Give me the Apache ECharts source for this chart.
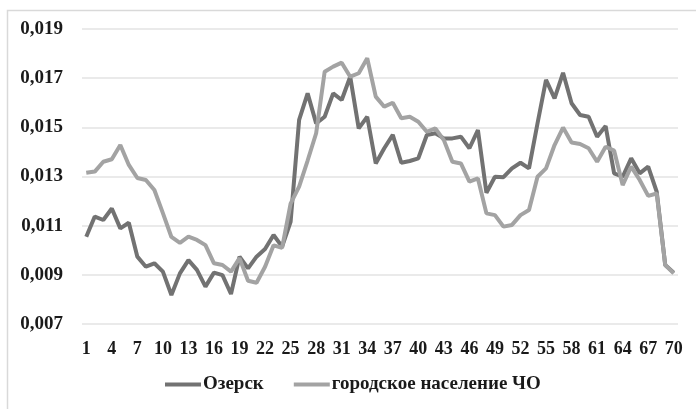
<!DOCTYPE html>
<html>
<head>
<meta charset="utf-8">
<script src="https://cdn.jsdelivr.net/npm/echarts@6/dist/echarts.min.js"></script>
<style>
  html, body { margin: 0; padding: 0; background: #fff; }
  #chart { width: 696px; height: 409px; }
</style>
</head>
<body>
<div id="chart"></div>
<script>
// 1..70
var categories = [];
for (var i = 1; i <= 70; i++) categories.push(String(i));

var ozersk = [
  0.01055, 0.01137, 0.01123, 0.0117, 0.01089, 0.01112, 0.00974, 0.00933, 0.00947, 0.00913,
  0.00818, 0.00906, 0.0096, 0.0092, 0.00852, 0.00909, 0.00899, 0.00822, 0.00974, 0.00926,
  0.00974, 0.01005, 0.01062, 0.01015, 0.01116, 0.0153, 0.01638, 0.01516, 0.01543, 0.01638,
  0.01611, 0.01706, 0.01496, 0.01543, 0.01353, 0.01415, 0.01469, 0.01356, 0.01363, 0.01374,
  0.01469, 0.01476, 0.01455, 0.01455, 0.01462, 0.01415, 0.01489, 0.01234, 0.01299, 0.01297,
  0.01333, 0.01356, 0.01333, 0.01516, 0.01693, 0.01618, 0.01722, 0.01598, 0.0155, 0.01543,
  0.01462, 0.01505, 0.01313, 0.01299, 0.01374, 0.01313, 0.0134, 0.01238, 0.0094, 0.00909
];

var urbanCO = [
  0.01315, 0.0132, 0.0136, 0.0137, 0.01428, 0.01347, 0.01294, 0.01286, 0.01245, 0.01151,
  0.01054, 0.0103, 0.01055, 0.01042, 0.01021, 0.00947, 0.0094, 0.00913, 0.00968, 0.00876,
  0.00868, 0.00933, 0.0102, 0.0101, 0.0119, 0.01259, 0.01365, 0.01476, 0.01726, 0.01747,
  0.01763, 0.01706, 0.0172, 0.01781, 0.01625, 0.01584, 0.016, 0.01537, 0.01543, 0.01523,
  0.01482, 0.01496, 0.01448, 0.0136, 0.01353, 0.01279, 0.01292, 0.0115, 0.01143, 0.01096,
  0.01103, 0.01143, 0.01164, 0.01299, 0.01333, 0.01428, 0.01499, 0.01438, 0.01432, 0.01415,
  0.0136, 0.01421, 0.01405, 0.01265, 0.0134, 0.01286, 0.01221, 0.01231, 0.0094, 0.00906
];

var seriesNames = ['Озерск', 'городское население ЧО'];

var font = '"Liberation Serif", "DejaVu Serif", serif';

var chart = echarts.init(document.getElementById('chart'));
chart.setOption({
  animation: false,
  textStyle: { fontFamily: font },
  graphic: [
    {
      type: 'polyline',
      shape: { points: [[7.5, 420], [7.5, 10.5], [700, 10.5]] },
      style: { stroke: '#d9d9d9', lineWidth: 1.5, fill: null }
    }
  ],
  grid: { left: 82, right: 18, top: 29, bottom: 85 },
  legend: {
    bottom: 10,
    left: 160,
    itemWidth: 36,
    itemHeight: 4,
    itemGap: 30,
    icon: 'rect',
    textStyle: { fontFamily: font, fontSize: 19, fontWeight: 'bold', color: '#1a1a1a', padding: [0, 0, 0, -3] },
    data: seriesNames
  },
  xAxis: {
    type: 'category',
    data: categories,
    boundaryGap: true,
    axisLine: { show: false },
    axisTick: { show: false },
    axisLabel: {
      interval: 2,
      margin: 16,
      fontFamily: font,
      fontSize: 18,
      fontWeight: 'bold',
      color: '#1a1a1a'
    }
  },
  yAxis: {
    type: 'value',
    min: 0.007,
    max: 0.019,
    interval: 0.002,
    axisLine: { show: false },
    axisTick: { show: false },
    splitLine: { lineStyle: { color: '#e3e3e3', width: 1.5 } },
    axisLabel: {
      margin: 19,
      fontFamily: font,
      fontSize: 19,
      fontWeight: 'bold',
      color: '#1a1a1a',
      formatter: function (v) { return v.toFixed(3).replace('.', ','); }
    }
  },
  series: [
    {
      name: seriesNames[0],
      type: 'line',
      data: ozersk,
      symbol: 'none',
      lineStyle: { color: '#727272', width: 4 },
      itemStyle: { color: '#727272' }
    },
    {
      name: seriesNames[1],
      type: 'line',
      data: urbanCO,
      symbol: 'none',
      lineStyle: { color: '#a3a3a3', width: 4 },
      itemStyle: { color: '#a3a3a3' }
    }
  ]
});
</script>
</body>
</html>
